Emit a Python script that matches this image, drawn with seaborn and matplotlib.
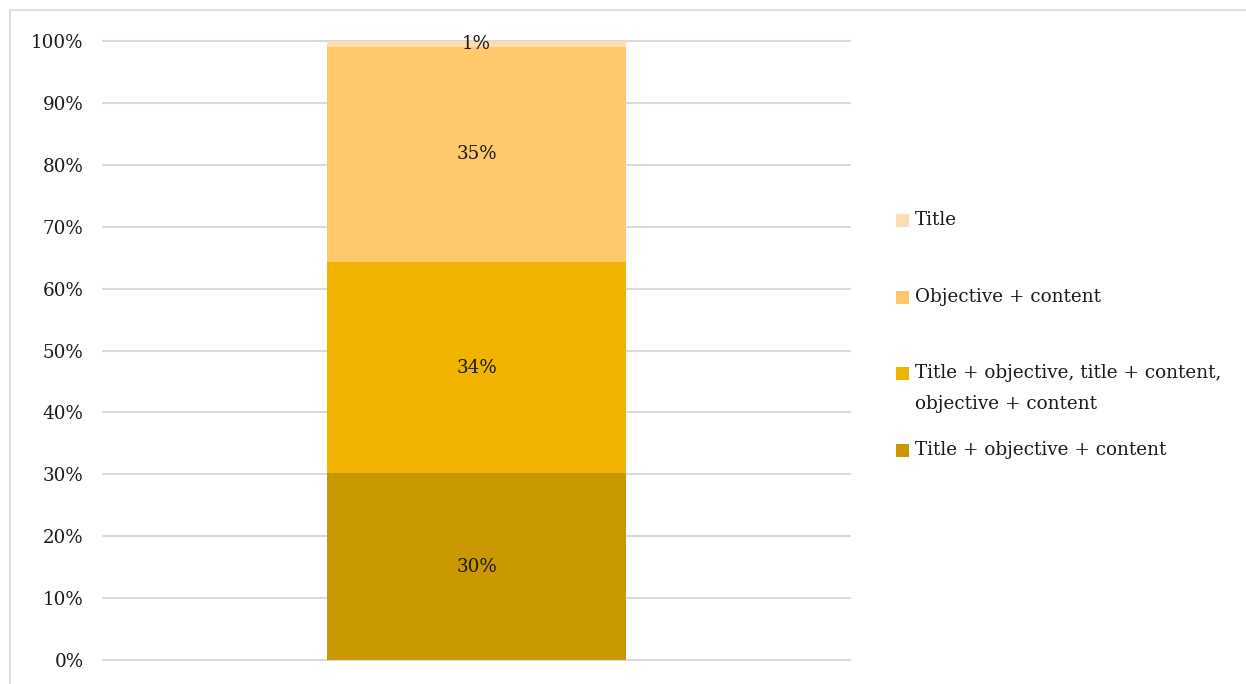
import matplotlib
matplotlib.use("Agg")
import matplotlib.pyplot as plt
import seaborn as sns
import numpy as np
import pandas as pd
from matplotlib.patches import Rectangle

categories = ["Title + objective + content",
              "Title + objective, title + content,\nobjective + content",
              "Objective + content",
              "Title"]
values = [30.2, 34.1, 34.8, 0.9]
labels = ["30%", "34%", "35%", "1%"]
colors = ["#C99700", "#F0B400", "#FFC96B", "#FDDDAF"]
yticks = [0, 10, 20, 30, 40, 50, 60, 70, 80, 90, 100]

sns.set_theme(style="white")
plt.rcParams['font.family'] = ['DejaVu Serif']
FS = 13.2
TXT = "#1a1a1a"

W, H = 1246, 684
fig = plt.figure(figsize=(W / 100, H / 100), dpi=100)
ax = fig.add_axes([103 / W, (H - 660) / H, 747 / W, 619 / H])

cum = np.cumsum(values)
bottoms = cum - np.array(values)
# draw cumulative heights from largest to smallest so smaller overlay
for i in reversed(range(len(values))):
    df = pd.DataFrame({"x": ["all"], "y": [cum[i]]})
    sns.barplot(data=df, x="x", y="y", color=colors[i], saturation=1,
                width=0.4, ax=ax, zorder=3, linewidth=0, edgecolor="none")

for i in range(len(values)):
    ax.text(0, bottoms[i] + values[i] / 2, labels[i], ha="center", va="center",
            fontsize=FS, color=TXT, zorder=5)

ax.set_xlim(-0.5, 0.5)
ax.set_ylim(0, 100)
ax.set_yticks(yticks)
ax.set_yticklabels([f"{t}%" for t in yticks], fontsize=FS, color=TXT)
ax.set_xticks([])
ax.set_xlabel("")
ax.set_ylabel("")
ax.tick_params(axis="y", length=0, pad=14)
ax.grid(axis="y", color="#D9D9D9", linewidth=1.5, zorder=0)
ax.set_axisbelow(True)
for gl in ax.get_ygridlines():
    gl.set_clip_on(False)
for s in ax.spines.values():
    s.set_visible(False)

# legend (manual, Excel-like layout)
leg_items = [("Title", colors[3], 220),
             ("Objective + content", colors[2], 297),
             ("Title + objective, title + content,\nobjective + content", colors[1], 373),
             ("Title + objective + content", colors[0], 450)]
for text, col, yp in leg_items:
    fig.patches.append(Rectangle((896 / W, (H - yp - 7) / H), 13 / W, 13 / H,
                                 transform=fig.transFigure, facecolor=col,
                                 edgecolor="none"))
    lines = text.split("\n")
    for k, line in enumerate(lines):
        fig.text(915 / W, (H - yp - 31 * k) / H, line, ha="left", va="center",
                 fontsize=FS, color=TXT)

# figure border
fig.patches.append(Rectangle((10 / W, -0.01), 1.02, (H - 10) / H + 0.01,
                             transform=fig.transFigure, facecolor="none",
                             edgecolor="#D9D9D9", linewidth=1.2))

fig.savefig("out.png", dpi=100)
